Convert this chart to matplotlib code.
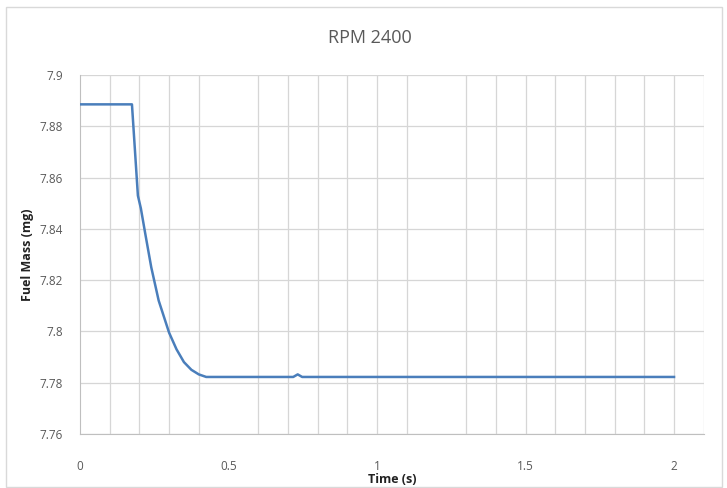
import numpy as np
from matplotlib import pyplot as plt
from matplotlib.ticker import FuncFormatter
from matplotlib.patches import Rectangle

# fuel mass trace
time_s = [0.0, 0.175, 0.195, 0.205, 0.22, 0.24, 0.265, 0.30, 0.325, 0.35,
          0.375, 0.40, 0.425, 0.718, 0.733, 0.748, 2.0]
fuel_mg = [7.8886, 7.8886, 7.853, 7.848, 7.838, 7.825, 7.812, 7.7995, 7.793, 7.788,
           7.785, 7.7832, 7.7822, 7.7822, 7.7832, 7.7822, 7.7822]

y_ticks = [7.76, 7.78, 7.8, 7.82, 7.84, 7.86, 7.88, 7.9]
x_ticks = [0, 0.5, 1, 1.5, 2]
# vertical gridlines (0.5 and 1.2 are missing in the original)
x_grid = [0.1, 0.2, 0.3, 0.4, 0.6, 0.7, 0.8, 0.9, 1.0, 1.1, 1.3, 1.4, 1.5,
          1.6, 1.7, 1.8, 1.9, 2.0, 2.1]

plt.rcParams['font.family'] = ['Open Sans', 'DejaVu Sans']

fig = plt.figure(figsize=(7.27, 4.88), dpi=100)
ax = fig.add_axes([0.110, 0.111, 0.858, 0.735])

# chart border
fig.patches.append(Rectangle((0.008, 0.003), 0.985, 0.983, transform=fig.transFigure,
                             fill=False, edgecolor='#d9d9d9', linewidth=1.0))

grid_col = '#d6d6d6'
for g in x_grid:
    ax.axvline(g, color=grid_col, linewidth=0.9, zorder=0)
for t in y_ticks:
    ax.axhline(t, color=grid_col, linewidth=0.9, zorder=0)

ax.plot(time_s, fuel_mg, color='#4a7ebb', linewidth=1.8, zorder=3)

ax.set_xlim(0, 2.1)
ax.set_ylim(7.76, 7.9)
ax.set_xticks(x_ticks)
ax.set_yticks(y_ticks)
ax.xaxis.set_major_formatter(FuncFormatter(lambda v, p: '%g' % v))
ax.yaxis.set_major_formatter(FuncFormatter(lambda v, p: '%g' % v))
ax.tick_params(axis='both', length=0, labelsize=8.5, colors='#595959')
ax.tick_params(axis='x', pad=19)
ax.tick_params(axis='y', pad=12)

for s in ['top', 'right']:
    ax.spines[s].set_visible(False)
ax.spines['left'].set_color('#bfbfbf')
ax.spines['bottom'].set_color('#bfbfbf')

ax.set_xlabel('Time (s)', fontsize=9, fontweight='bold', color='#222222', labelpad=0)
ax.set_ylabel('Fuel Mass (mg)', fontsize=9, fontweight='bold', color='#222222', labelpad=4)

fig.text(0.509, 0.922, 'RPM 2400', fontsize=13, color='#595959', ha='center', va='center')

plt.savefig('out.png', dpi=100)
